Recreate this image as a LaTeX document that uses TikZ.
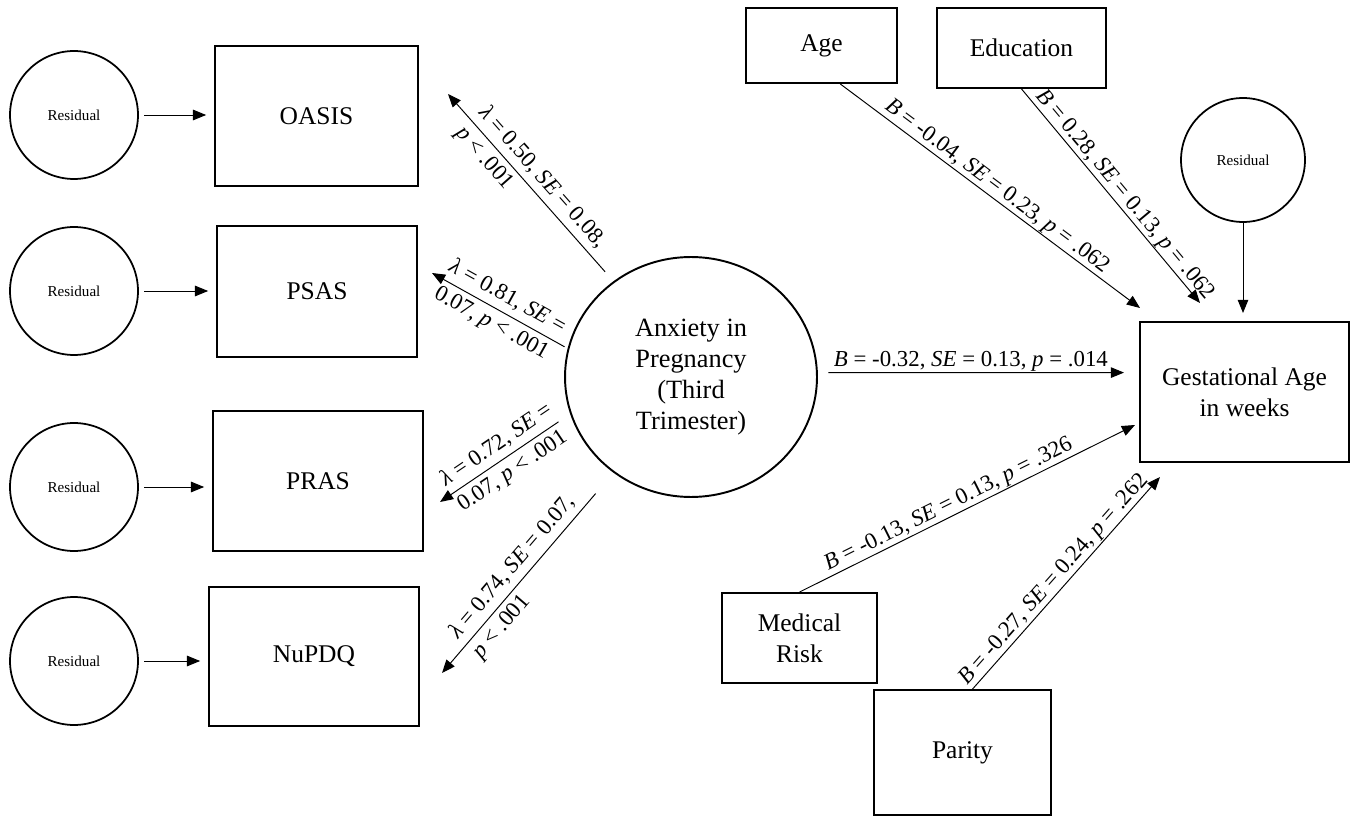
\documentclass[tikz,border=0pt]{standalone}
\usepackage{fontspec}
\setmainfont{Liberation Serif}
\usetikzlibrary{arrows.meta,shapes.geometric}

\begin{document}
\begin{tikzpicture}[x=0.02cm,y=-0.02cm,
      every node/.style={font=\fontsize{14.5}{17.5}\selectfont},
      box/.style={draw,line width=1.1pt,align=center,inner sep=0pt},
      resid/.style={draw,circle,line width=1pt,minimum size=2.56cm,inner sep=0pt,font=\fontsize{8.6}{10}\selectfont},
      arrow/.style={-{Triangle[length=7.5pt,width=6pt]},line width=0.55pt},
      lbl/.style={font=\fontsize{13}{17.5}\selectfont,sloped,align=left,inner sep=0.5pt}]
      \useasboundingbox (0,0) rectangle (1359,817);
      \node[resid] (res1) at (74,115) {Residual};
      \node[resid] (res2) at (74,291) {Residual};
      \node[resid] (res3) at (74,487) {Residual};
      \node[resid] (res4) at (74,661) {Residual};
      \node[box,minimum width=4.06cm,minimum height=2.8cm] (oasis) at (316.5,116) {OASIS};
      \node[box,minimum width=4cm,minimum height=2.62cm] (psas) at (317,291.5) {PSAS};
      \node[box,minimum width=4.2cm,minimum height=2.8cm] (pras) at (318,481) {PRAS};
      \node[box,minimum width=4.2cm,minimum height=2.78cm] (nupdq) at (314,656.5) {NuPDQ};
      \node[draw,ellipse,line width=1.1pt,minimum width=5.04cm,minimum height=4.8cm,align=center,
        font=\fontsize{15}{17.6}\selectfont] (anx) at (691,377) {Anxiety in\\Pregnancy\\(Third\\Trimester)};
      \node[box,minimum width=3.02cm,minimum height=1.5cm] (age) at (821.5,45.5) {Age};
      \node[box,minimum width=3.38cm,minimum height=1.6cm] (edu) at (1021.5,48) {Education};
      \node[resid,minimum size=2.48cm] (res5) at (1243,160) {Residual};
      \node[box,minimum width=4.18cm,minimum height=2.8cm] (gest) at (1244.5,392) {Gestational Age\\in weeks};
      \node[box,minimum width=3.1cm,minimum height=1.8cm] (med) at (799.5,638) {Medical\\Risk};
      \node[box,minimum width=3.54cm,minimum height=2.5cm] (par) at (962.5,752.5) {Parity};
      \coordinate (t1) at (448,94); \coordinate (t2) at (432,273);
      \coordinate (t3) at (440,502); \coordinate (t4) at (442,673);
      \coordinate (tmain) at (1124,372.6); \coordinate (tage) at (1140,308);
      \coordinate (tedu) at (1200,303); \coordinate (tres) at (1243,313);
      \coordinate (tmed) at (1135,425); \coordinate (tpar) at (1160,477);
      \foreach \r/\b in {res1/oasis,res2/psas,res3/pras,res4/nupdq}
        \draw[arrow,shorten <=3pt,shorten >=4.5pt] (\r) -- (\r -| \b.west);
      \draw[arrow,shorten <=7.2pt] (anx.129.6) -- node[lbl,pos=0.5] {\textit{λ} = 0.50, \textit{SE} = 0.08,\\\textit{p} < .001} (t1);
      \draw[arrow,shorten <=2pt] (anx.167.5) -- node[lbl,pos=0.5] {\textit{λ} = 0.81, \textit{SE} =\\0.07, \textit{p} < .001} (t2);
      \draw[arrow,shorten <=8pt] (anx.197.9) -- node[lbl,pos=0.5] {\textit{λ} = 0.72, \textit{SE} =\\0.07, \textit{p} < .001} (t3);
      \draw[arrow,shorten <=15.6pt] (anx.231.2) -- node[lbl,pos=0.52] {\textit{λ} = 0.74, \textit{SE} = 0.07,\\\textit{p} < .001} (t4);
      \draw[arrow,shorten <=6pt] (anx.2) -- node[lbl,above] {\textit{B} = -0.32, \textit{SE} = 0.13, \textit{p} = .014} (tmain);
      \draw[arrow] (age.-64) -- node[lbl,above] {\textit{B} = -0.04, \textit{SE} = 0.23, \textit{p} = .062} (tage);
      \draw[arrow] (edu.south) -- node[lbl,above,pos=0.53] {\textit{B} = 0.28, \textit{SE} = 0.13, \textit{p} = .062} (tedu);
      \draw[arrow] (res5) -- (tres);
      \draw[arrow] (med.north) -- node[lbl,above,pos=0.46] {\textit{B} = -0.13, \textit{SE} = 0.13, \textit{p} = .326} (tmed);
      \draw[arrow] (par.81) -- node[lbl,above,pos=0.48] {\textit{B} = -0.27, \textit{SE} = 0.24, \textit{p} = .262} (tpar);
    \end{tikzpicture}
\end{document}
